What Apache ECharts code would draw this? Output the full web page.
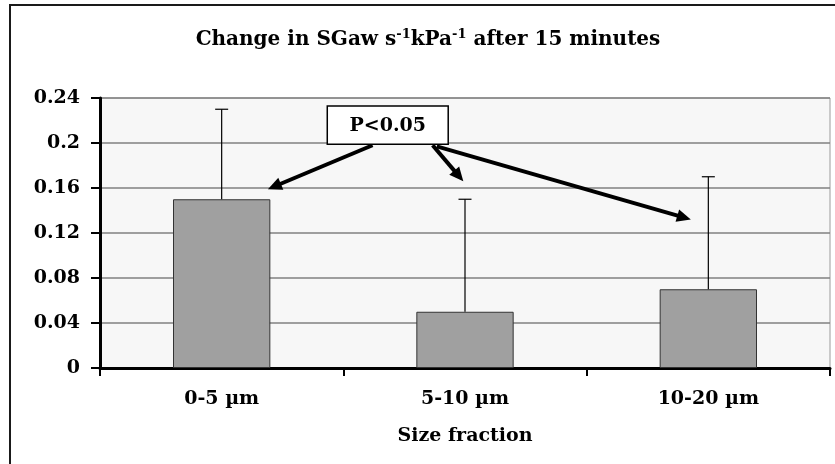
<!DOCTYPE html>
<html>
<head>
<meta charset="utf-8">
<script src="https://cdn.jsdelivr.net/npm/echarts@6/dist/echarts.min.js"></script>
<style>
html,body{margin:0;padding:0;background:#fff;}
#chart{width:835px;height:464px;}
</style>
</head>
<body>
<div id="chart"></div>
<script>
// ---- data ----
const categories = ['0-5 µm', '5-10 µm', '10-20 µm'];
const values = [0.15, 0.05, 0.07];
const errors = [0.08, 0.10, 0.10];
const yTicks = { min: 0, max: 0.24, interval: 0.04 };
const titleText = 'Change in SGaw s{sup|-1}kPa{sup|-1} after 15 minutes';
const xAxisName = 'Size fraction';
const annotationText = 'P<0.05';
// annotation anchors in data space: [category position, value]
const annotationBox = [[0.434, 0.2330], [0.931, 0.1990]];
const arrowStarts = [[0.62, 0.198], [0.867, 0.198], [0.884, 0.197]];
const arrowEnds = [[0.19, 0.159], [0.993, 0.166], [1.928, 0.132]];

const FONT = 'DejaVu Serif';
const chart = echarts.init(document.getElementById('chart'));

const option = {
  animation: false,
  backgroundColor: '#fff',
  grid: {
    left: 100, right: 5, top: 98, bottom: 96,
    show: true, backgroundColor: '#f7f7f7', borderColor: '#9a9a9a', borderWidth: 1
  },
  xAxis: {
    type: 'category',
    data: categories,
    boundaryGap: true,
    name: xAxisName,
    nameLocation: 'middle',
    nameGap: 59,
    nameTextStyle: { fontFamily: FONT, fontWeight: 'bold', fontSize: 19, color: '#000' },
    axisLine: { show: true, lineStyle: { color: '#000', width: 3 } },
    axisTick: { show: true, length: 8, lineStyle: { color: '#000', width: 2 } },
    axisLabel: { margin: 22, fontFamily: FONT, fontWeight: 'bold', fontSize: 19, color: '#000' },
    splitLine: { show: false }
  },
  yAxis: {
    type: 'value',
    min: yTicks.min, max: yTicks.max, interval: yTicks.interval,
    axisLine: { show: true, lineStyle: { color: '#000', width: 3 } },
    axisTick: { show: true, length: 9, lineStyle: { color: '#000', width: 2 } },
    axisLabel: { margin: 20, fontFamily: FONT, fontWeight: 'bold', fontSize: 19, color: '#000',
      formatter: v => String(+v.toFixed(2)) },
    splitLine: { show: true, lineStyle: { color: '#808080', width: 1.5 } }
  },
  series: [
    {
      type: 'bar',
      data: values,
      barWidth: '40%',
      itemStyle: { color: '#a0a0a0', borderColor: '#333', borderWidth: 1 },
      z: 2
    },
    {
      type: 'custom',
      z: 5,
      data: categories.map((c, i) => [i, values[i], errors[i]]),
      renderItem: function (params, api) {
        const base = api.coord([api.value(0), api.value(1)]);
        const top = api.coord([api.value(0), api.value(1) + api.value(2)]);
        const hw = 6.5;
        const st = { stroke: '#000', lineWidth: 1.2 };
        return {
          type: 'group',
          children: [
            { type: 'line', shape: { x1: base[0], y1: base[1], x2: top[0], y2: top[1] }, style: st },
            { type: 'line', shape: { x1: top[0] - hw, y1: top[1], x2: top[0] + hw, y2: top[1] }, style: st }
          ]
        };
      }
    }
  ]
};
chart.setOption(option);

function toPx(p) {
  const x0 = chart.convertToPixel({ xAxisIndex: 0 }, 0);
  const x1 = chart.convertToPixel({ xAxisIndex: 0 }, 1);
  const y = chart.convertToPixel({ yAxisIndex: 0 }, p[1]);
  return [x0 + (x1 - x0) * p[0], y];
}

const graphics = [];
// outer chart frame (cropped at right/bottom in the reference)
graphics.push({
  type: 'rect', silent: true, z: 100,
  shape: { x: 10, y: 5, width: 900, height: 600 },
  style: { fill: null, stroke: '#1a1a1a', lineWidth: 2 }
});
// title with superscripts
graphics.push({
  type: 'text', z: 100, x: 428, y: 40,
  style: {
    text: titleText,
    align: 'center', verticalAlign: 'middle',
    fontFamily: FONT, fontWeight: 'bold', fontSize: 20, fill: '#000',
    rich: {
      sup: { fontFamily: FONT, fontWeight: 'bold', fontSize: 13, fill: '#000', padding: [0, 0, 10, 0] }
    }
  }
});
// arrows
arrowStarts.forEach((s, i) => {
  const a = toPx(s), b = toPx(arrowEnds[i]);
  const dx = b[0] - a[0], dy = b[1] - a[1];
  const len = Math.hypot(dx, dy);
  const ux = dx / len, uy = dy / len;
  const headL = 14, headW = 6.5;
  const bx = b[0] - ux * headL, by = b[1] - uy * headL;
  graphics.push({
    type: 'line', z: 110,
    shape: { x1: a[0], y1: a[1], x2: bx + ux * 2, y2: by + uy * 2 },
    style: { stroke: '#000', lineWidth: 4 }
  });
  graphics.push({
    type: 'polygon', z: 110,
    shape: { points: [[b[0], b[1]], [bx - uy * headW, by + ux * headW], [bx + uy * headW, by - ux * headW]] },
    style: { fill: '#000' }
  });
});
// annotation box
const bp1 = toPx(annotationBox[0]), bp2 = toPx(annotationBox[1]);
graphics.push({
  type: 'rect', z: 120,
  shape: { x: bp1[0], y: bp1[1], width: bp2[0] - bp1[0], height: bp2[1] - bp1[1] },
  style: { fill: '#fff', stroke: '#000', lineWidth: 1.5 }
});
graphics.push({
  type: 'text', z: 121,
  x: (bp1[0] + bp2[0]) / 2, y: (bp1[1] + bp2[1]) / 2 + 1,
  style: {
    text: annotationText, align: 'center', verticalAlign: 'middle',
    fontFamily: FONT, fontWeight: 'bold', fontSize: 19, fill: '#000'
  }
});
chart.setOption({ graphic: graphics });
</script>
</body>
</html>
